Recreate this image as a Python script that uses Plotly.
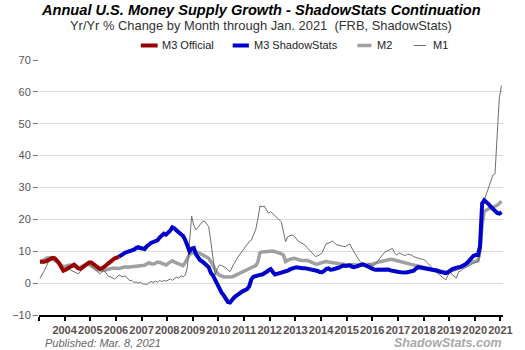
import pandas as pd
import plotly.graph_objects as go

# Monthly dates, Jan 2003 .. Jan 2021 (plotted mid-month)
months = pd.date_range("2003-01-01", "2021-01-01", freq="MS") + pd.Timedelta(days=14)

# M3 Official, Jan 2003 .. Feb 2006
m3_official = [
    6.7, 6.6, 6.7, 6.9, 7.3, 7.7, 7.9, 7.8, 7.2, 6.3, 5.0, 3.9,
    4.2, 4.6, 5.0, 5.4, 5.8, 5.2, 4.6, 4.5, 5.0, 5.4, 5.9, 6.5,
    6.5, 6.0, 5.6, 5.1, 4.5, 4.6, 5.0, 5.6, 6.2, 6.8, 7.4, 7.8,
    8.0, 8.3,
]

# M3 ShadowStats continuation, Feb 2006 .. Jan 2021
m3_sgs = [
    8.3, 8.8, 9.2, 9.6, 9.8, 10.0, 10.1, 10.5, 11.0, 11.3, 11.0,
    10.8, 10.7, 11.5, 12.3, 12.6, 12.9, 13.2, 13.4, 14.3, 15.0, 15.5, 15.2,
    15.8, 16.5, 17.5, 17.2, 16.5, 16.0, 15.6, 14.8, 13.5, 11.5, 10.0, 10.8,
    11.0, 9.0, 8.0, 7.2, 6.8, 6.2, 5.6, 5.0, 3.2, 2.4, 1.0, -0.5,
    -2.0, -3.0, -3.8, -4.8, -5.9, -6.1, -5.2, -4.4, -3.9, -3.3, -2.8, -2.5,
    -2.2, -1.8, -1.0, 1.2, 2.0, 2.3, 2.5, 2.6, 2.7, 3.0, 3.5, 4.0,
    4.4, 3.5, 2.7, 2.9, 3.1, 3.0, 3.3, 3.6, 3.9, 4.3, 4.7, 4.8,
    5.0, 4.8, 4.8, 4.7, 4.7, 4.6, 4.5, 4.4, 4.2, 4.2, 3.8, 3.5,
    3.4, 3.8, 4.4, 4.6, 4.2, 4.3, 4.4, 4.6, 4.9, 5.2, 5.5, 5.4,
    5.6, 5.6, 5.2, 5.0, 5.2, 5.5, 5.8, 5.9, 5.7, 5.3, 5.0, 4.8,
    4.4, 4.2, 4.2, 4.4, 4.3, 4.1, 4.4, 4.3, 4.0, 3.8, 3.6, 3.5,
    3.5, 3.4, 3.3, 3.3, 3.4, 3.6, 3.8, 3.9, 4.6, 5.0, 4.9, 4.8,
    4.7, 4.6, 4.5, 4.2, 4.3, 4.0, 3.9, 3.6, 3.5, 3.3, 3.1, 3.4,
    4.0, 4.4, 4.6, 4.9, 5.0, 5.1, 5.3, 5.8, 6.4, 7.2, 8.0, 8.6,
    8.8, 8.8, 11.5, 25.0, 26.0, 25.5, 24.8, 24.0, 23.2, 22.6, 22.0, 21.8,
    22.3,
]

# M2, Jan 2003 .. Jan 2021
m2 = [
    6.7, 6.9, 7.3, 7.8, 8.0, 8.0, 7.6, 7.2, 6.6, 5.9, 5.4, 5.2,
    5.3, 5.5, 5.7, 5.6, 5.2, 4.8, 4.7, 5.0, 5.4, 5.8, 6.0, 5.8,
    5.4, 4.9, 4.4, 4.2, 4.1, 4.0, 4.0, 4.2, 4.4, 4.6, 4.7, 4.7,
    4.6, 4.6, 4.8, 5.0, 5.1, 5.0, 5.1, 5.2, 5.3, 5.4, 5.5, 5.6,
    5.7, 5.6, 6.0, 6.4, 6.1, 6.0, 6.2, 6.6, 6.5, 6.2, 5.9, 5.7,
    6.2, 6.8, 7.0, 6.6, 6.3, 6.1, 5.6, 5.5, 6.5, 7.8, 9.0, 9.4,
    9.6, 9.7, 9.6, 9.3, 8.9, 8.6, 8.2, 7.8, 6.8, 5.7, 4.2, 3.1,
    2.5, 2.1, 2.0, 1.9, 1.9, 1.9, 2.0, 2.3, 2.6, 3.0, 3.3, 3.6,
    3.9, 4.2, 4.4, 4.8, 5.2, 5.5, 6.5, 9.6, 9.8, 9.9, 10.0, 10.1,
    10.2, 10.1, 9.9, 9.7, 9.5, 9.2, 8.8, 6.8, 7.2, 7.5, 7.7, 7.8,
    7.5, 7.3, 7.2, 7.1, 7.2, 7.1, 6.9, 6.6, 6.3, 6.0, 6.0, 6.2,
    6.4, 6.6, 6.8, 6.6, 6.5, 6.3, 6.3, 6.1, 6.0, 5.8, 5.7, 5.8,
    5.7, 5.8, 5.9, 5.8, 5.7, 5.8, 5.8, 5.7, 5.6, 5.5, 5.4, 5.8,
    6.2, 6.3, 6.5, 6.7, 6.8, 7.0, 7.2, 7.4, 7.5, 7.4, 7.2, 7.0,
    6.8, 6.7, 6.5, 6.3, 6.1, 6.0, 5.8, 5.6, 5.5, 5.4, 5.2, 5.0,
    4.8, 4.7, 4.5, 4.4, 4.3, 4.2, 4.0, 3.9, 3.7, 3.6, 3.5, 3.6,
    3.8, 4.0, 4.2, 4.4, 4.6, 4.8, 5.2, 5.6, 6.0, 6.3, 6.6, 6.7,
    6.8, 7.0, 10.0, 18.5, 22.5, 23.0, 23.3, 23.5, 23.8, 24.1, 24.4, 25.0,
    25.7,
]

# M1, Jan 2003 .. Jan 2021
m1 = [
    1.5, 2.6, 3.8, 5.2, 6.7, 7.3, 7.8, 7.3, 6.6, 5.7, 5.0, 4.2,
    4.5, 4.7, 4.2, 3.9, 3.5, 3.1, 2.9, 3.8, 4.7, 5.2, 5.7, 6.0,
    5.4, 4.8, 4.2, 3.5, 2.9, 3.5, 4.0, 3.2, 2.1, 2.0, 1.6, 1.25,
    1.9, 2.6, 2.2, 2.0, 2.3, 1.5, 0.8, 0.9, 0.2, 0.4, 0.0, 0.3,
    -0.2, -0.3, -0.5, 0.1, 0.5, 0.2, 0.6, 0.3, 0.8, 0.5, 0.8, 0.6,
    1.0, 1.3, 0.9, 1.4, 1.9, 1.5, 2.3, 2.0, 2.5, 5.0, 13.0, 21.0,
    18.0, 16.7, 17.5, 18.5, 19.25, 19.5, 18.5, 17.7, 13.0, 7.3, 2.6, 4.5,
    5.7, 5.5, 5.2, 4.8, 4.2, 3.6, 5.0, 6.5, 7.5, 8.5, 9.4, 10.5,
    11.5, 12.3, 13.0, 13.5, 15.0, 16.7, 20.0, 24.2, 24.0, 24.2, 23.0, 21.9,
    22.4, 21.8, 21.0, 20.5, 19.8, 19.25, 16.0, 13.0, 14.6, 14.8, 15.1, 14.8,
    13.8, 13.0, 12.8, 12.5, 12.0, 11.2, 10.5, 9.9, 9.0, 8.3, 8.6, 8.9,
    9.5, 10.8, 12.3, 12.5, 12.9, 13.2, 12.6, 12.0, 11.9, 11.6, 11.5, 11.5,
    11.8, 12.3, 11.0, 9.8, 8.8, 7.6, 6.8, 6.0, 5.4, 5.9, 6.3, 5.8,
    5.4, 6.0, 6.8, 7.8, 8.8, 9.4, 9.9, 10.3, 10.6, 10.9, 9.5, 8.8,
    9.5, 9.2, 8.8, 8.6, 9.1, 8.9, 8.8, 8.3, 8.0, 7.8, 7.6, 7.5,
    7.3, 6.6, 5.9, 5.3, 4.7, 3.9, 3.1, 2.6, 2.1, 1.5, 1.0, 2.5,
    3.6, 2.6, 2.0, 1.6, 3.6, 3.8, 4.4, 4.8, 5.2, 5.5, 6.0, 6.25,
    6.5, 6.8, 8.5, 24.0, 26.0, 28.0, 30.0, 31.3, 33.9, 34.3, 47.0, 58.0,
    62.0,
]

years = list(range(2003, 2022))
year_ticks = [f"{y}-01-01" for y in years]
year_labels = ["" if y == 2003 else str(y) for y in years]
y_ticks = [-10, 0, 10, 20, 30, 40, 50, 60, 70]

C_RED = "#990000"
C_BLUE = "#0000cc"
C_M2 = "#a0a0a0"
C_M1 = "#6e6e6e"

fig = go.Figure()
fig.add_trace(go.Scatter(x=months[:len(m2)], y=m2, mode="lines", name="M2",
                         line=dict(color=C_M2, width=3.5)))
fig.add_trace(go.Scatter(x=months[:len(m1)], y=m1, mode="lines", name="M1",
                         line=dict(color=C_M1, width=1)))
fig.add_trace(go.Scatter(x=months[:len(m3_official)], y=m3_official, mode="lines",
                         name="M3 Official", line=dict(color=C_RED, width=4)))
start = len(m3_official) - 1
fig.add_trace(go.Scatter(x=months[start:start + len(m3_sgs)], y=m3_sgs, mode="lines",
                         name="M3 ShadowStats", line=dict(color=C_BLUE, width=4)))

FONT = "Liberation Sans, Arial, sans-serif"

fig.update_layout(
    width=525, height=350,
    margin=dict(l=35, r=14, t=60, b=35),
    paper_bgcolor="white", plot_bgcolor="white",
    showlegend=False,
    font=dict(family=FONT),
)
fig.update_xaxes(
    type="date", range=["2003-01-01", "2021-02-06"],
    tickvals=year_ticks, ticktext=year_labels, tickangle=0,
    showgrid=False, zeroline=False,
    showline=True, linecolor="black", linewidth=2,
    ticks="outside", ticklen=4, tickwidth=1.5, tickcolor="black",
    tickfont=dict(size=11, color="#5a5050", family=FONT, weight="bold"),
)
fig.update_yaxes(
    range=[-10, 70], tickvals=y_ticks,
    showgrid=True, gridcolor="#dadada", gridwidth=1, zeroline=False,
    showline=False, ticks="outside", ticklen=5, tickcolor="#777",
    tickfont=dict(size=11, color="#555", family=FONT),
)

ann = [
    dict(text="<b><i>Annual U.S. Money Supply Growth - ShadowStats Continuation</i></b>",
         x=0.478, y=1.197, font=dict(size=14.6, color="black"), xanchor="center"),
    dict(text="Yr/Yr % Change by Month through Jan. 2021 \u00a0(FRB, ShadowStats)",
         x=0.478, y=1.135, font=dict(size=12.9, color="#333"), xanchor="center"),
    dict(text="<i>Published: Mar. 8, 2021</i>", x=0.0084, y=-0.108,
         font=dict(size=11, color="#666"), xanchor="left"),
    dict(text="<b><i>ShadowStats.com</i></b>", x=1.0021, y=-0.109,
         font=dict(size=12.5, color="#aaaaaa"), xanchor="right"),
]
legend_items = [
    ("M3 Official", C_RED, 4, 0.2195, 0.2557, 0.2605),
    ("M3 ShadowStats", C_BLUE, 4, 0.4174, 0.4523, 0.4580),
    ("M2", C_M2, 3.5, 0.6863, 0.7164, 0.7248),
    ("M1", C_M1, 1, 0.8074, 0.8340, 0.8445),
]
LY = 1.0569
shapes = []
for name, col, w, x0, x1, xt in legend_items:
    shapes.append(dict(type="line", xref="paper", yref="paper", x0=x0, x1=x1,
                       y0=LY, y1=LY, line=dict(color=col, width=w)))
    ann.append(dict(text=name, x=xt, y=LY, xanchor="left",
                    font=dict(size=11, color="#222")))
for a in ann:
    a.update(xref="paper", yref="paper", showarrow=False, yanchor="middle")
    a["font"]["family"] = FONT
fig.update_layout(annotations=ann, shapes=shapes)

fig.write_html("out.html")
